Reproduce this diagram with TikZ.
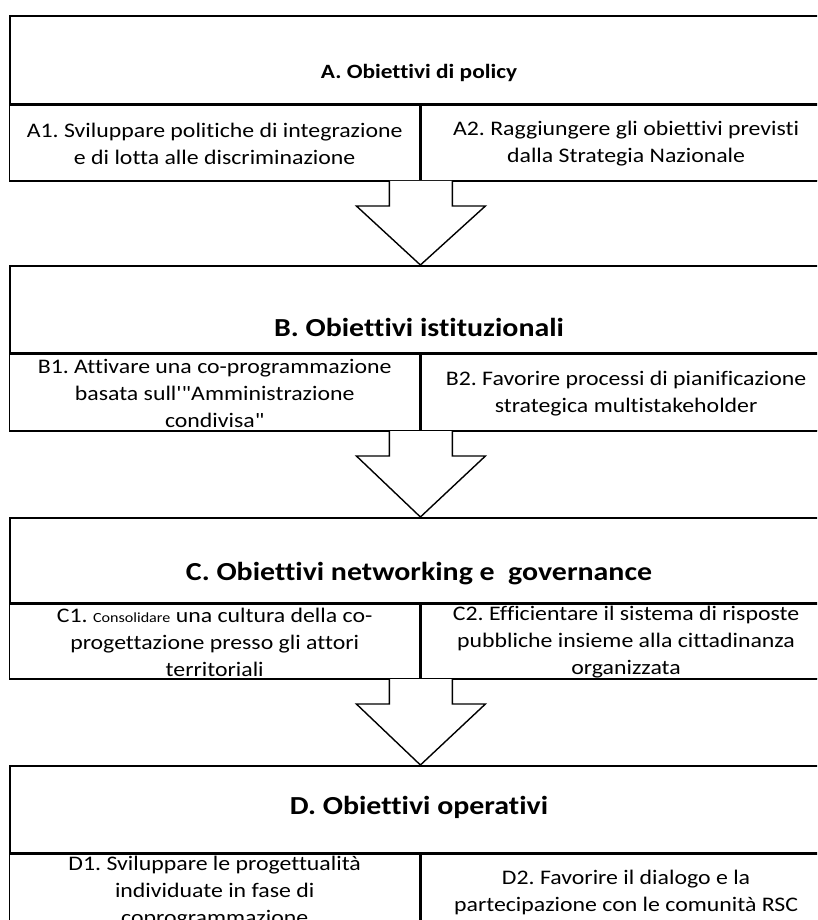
\documentclass[tikz,border=0pt]{standalone}
\usepackage{fontspec}
\newfontfamily\cf{Carlito}[FakeStretch=1.15, Ligatures=CommonOff]
\usetikzlibrary{calc}
\tikzset{
  hdrbox/.style={draw, line width=1.6pt, rectangle, minimum width=820pt, minimum height=#1, anchor=north west, inner sep=0pt},
  cellbox/.style={draw, line width=1.4pt, rectangle, minimum width=410pt, minimum height=75pt, anchor=north west, inner sep=0pt},
  celltext/.style={align=center, inner sep=0pt, font=\cf\fontsize{20.7}{26.8}\selectfont},
  bigtitle/.style={font=\cf\bfseries\fontsize{26}{30}\selectfont, inner sep=0pt},
  blockarr/.style={draw, line width=1.4pt, fill=white, line join=miter},
}
\newcommand\blockarrow[2]{%
  \draw[blockarr] ($(#1.south east)+(-31,0)$) -- ++(0,25) -- ++(-33,0)
     -- (#2.north west -| #1.south east)
     -- ($(#1.south east)+(65,25)$) -- ++(-33,0) -- ++(0,-25);
}
\begin{document}
\frenchspacing
\begin{tikzpicture}[x=1pt,y=-1pt]
\useasboundingbox (0,0) rectangle (817,920);
\clip (0,0) rectangle (817,920);
% Block A
\node[hdrbox=88pt] (A) at (9,15) {};
\node[font=\cf\bfseries\fontsize{20.3}{24}\selectfont, inner sep=0pt] (At) at (419,73) {A. Obiettivi di policy};
\node[cellbox] (A1) at (A.south west) {};
\node[cellbox] (A2) at (A1.north east) {};
\node[celltext] (A1t) at ($(A1.center)+(0,1)$) {A1. Sviluppare politiche di integrazione\\e di lotta alle discriminazione};
\node[celltext] (A2t) at ($(A2.center)+(0,1)$) {A2. Raggiungere gli obiettivi previsti\\dalla Strategia Nazionale};
\draw[line width=2.4pt] (A1.south west) -- (A2.south east);
% Block B
\node[hdrbox=87pt] (B) at (9,265) {};
\node[bigtitle] (Bt) at (419,327) {B. Obiettivi istituzionali};
\node[cellbox, minimum height=76pt] (B1) at (B.south west) {};
\node[cellbox, minimum height=76pt] (B2) at (B1.north east) {};
\node[celltext] (B1t) at ($(B1.center)+(0,1)$) {B1. Attivare una co-programmazione\\basata sull'"Amministrazione\\condivisa"};
\node[celltext] (B2t) at ($(B2.center)+(0,1)$) {B2. Favorire processi di pianificazione\\strategica multistakeholder};
\draw[line width=2.6pt] (B1.south west) -- (B2.south east);
% Block C
\node[hdrbox=85pt] (C) at (9,517) {};
\node[bigtitle] (Ct) at (419,574) {C. Obiettivi networking e\ \ governance};
\node[cellbox, minimum height=74pt] (C1) at (C.south west) {};
\node[cellbox, minimum height=74pt] (C2) at (C1.north east) {};
\node[celltext] (C1t) at ($(C1.center)+(0,1)$) {C1. {\fontsize{14}{16}\selectfont Consolidare} una cultura della co-\\progettazione presso gli attori\\territoriali};
\node[celltext] (C2t) at ($(C2.center)+(0,1)$) {C2. Efficientare il sistema di risposte\\pubbliche insieme alla cittadinanza\\organizzata};
\draw[line width=2.4pt] (C1.south west) -- (C2.south east);
% Block D
\node[hdrbox=87pt] (D) at (9,765) {};
\node[bigtitle] (Dt) at (419,807) {D. Obiettivi operativi};
\node[cellbox, minimum height=76pt] (D1) at (D.south west) {};
\node[cellbox, minimum height=76pt] (D2) at (D1.north east) {};
\node[celltext] (D1t) at ($(D1.center)+(0,0)$) {D1. Sviluppare le progettualità\\individuate in fase di\\coprogrammazione};
\node[celltext] (D2t) at ($(D2.center)+(0,0)$) {D2. Favorire il dialogo e la\\partecipazione con le comunità RSC};
% Arrows
\blockarrow{A1}{B}
\blockarrow{B1}{C}
\blockarrow{C1}{D}
\end{tikzpicture}
\end{document}
